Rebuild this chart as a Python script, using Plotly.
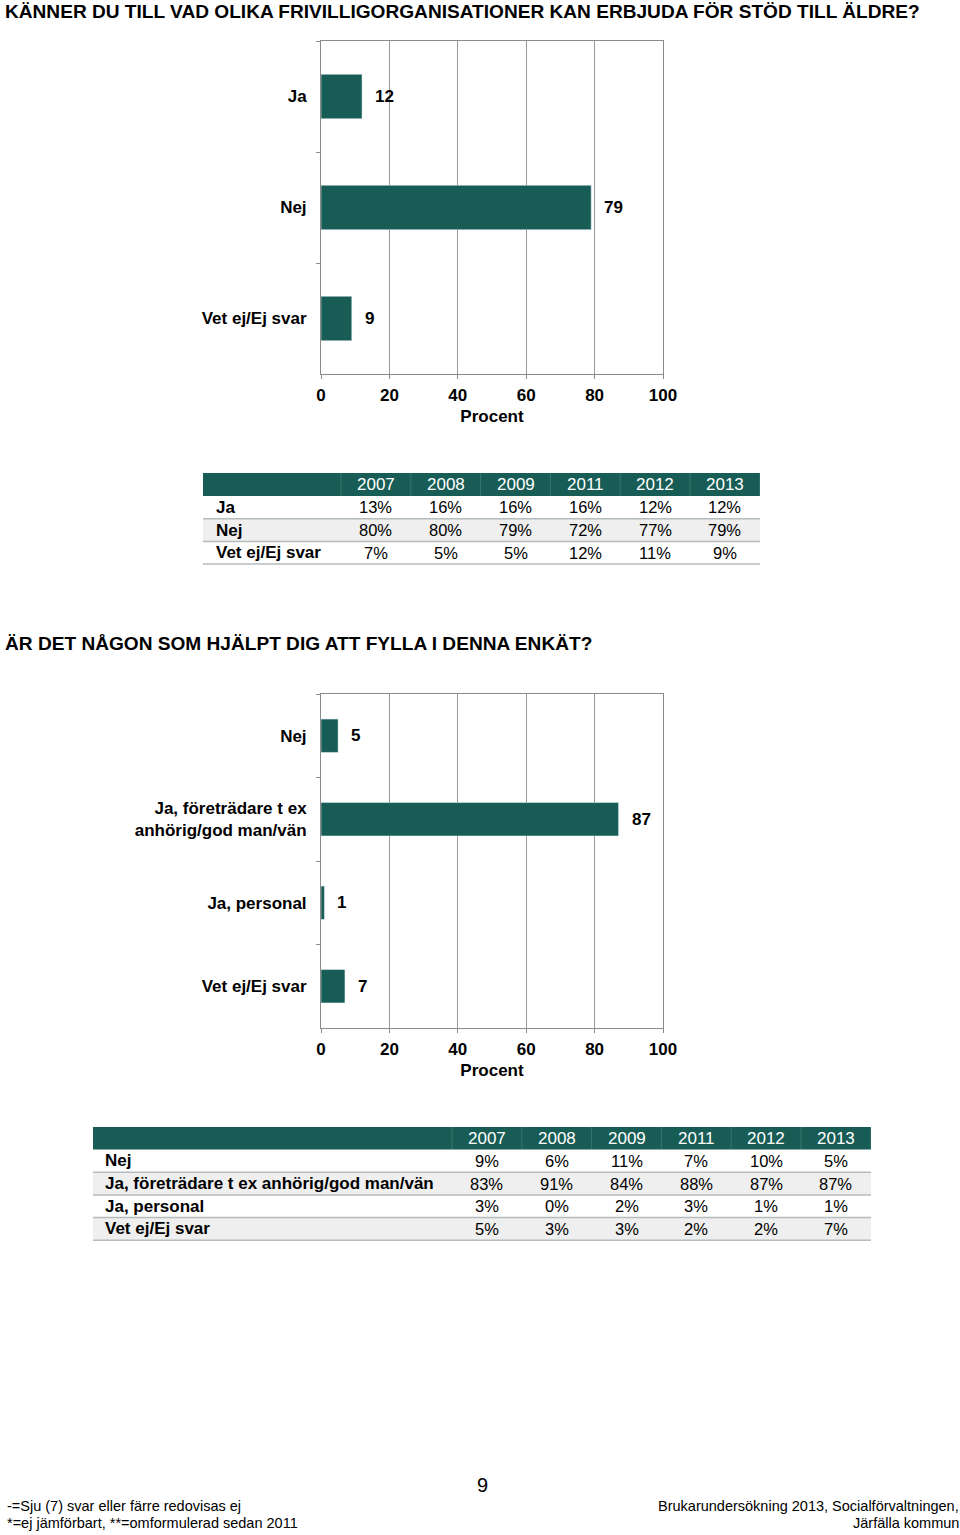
import plotly.graph_objects as go

W, H = 960, 1535
FONT = "Liberation Sans"
GREEN = "#175D56"
GRID = "#9a9a9a"
LINE = "#8a8a8a"

# ---------------- data ----------------
title1 = "KÄNNER DU TILL VAD OLIKA FRIVILLIGORGANISATIONER KAN ERBJUDA FÖR STÖD TILL ÄLDRE?"
title2 = "ÄR DET NÅGON SOM HJÄLPT DIG ATT FYLLA I DENNA ENKÄT?"

c1_categories = ["Ja", "Nej", "Vet ej/Ej svar"]
c1_values = [12, 79, 9]

c2_categories = ["Nej", "Ja, företrädare t ex<br>anhörig/god man/vän", "Ja, personal", "Vet ej/Ej svar"]
c2_values = [5, 87, 1, 7]

x_ticks = [0, 20, 40, 60, 80, 100]
axis_title = "Procent"

years = ["2007", "2008", "2009", "2011", "2012", "2013"]

t1_rows = ["Ja", "Nej", "Vet ej/Ej svar"]
t1_ja = [13, 16, 16, 16, 12, 12]
t1_nej = [80, 80, 79, 72, 77, 79]
t1_vet = [7, 5, 5, 12, 11, 9]

t2_rows = ["Nej", "Ja, företrädare t ex anhörig/god man/vän", "Ja, personal", "Vet ej/Ej svar"]
t2_nej = [9, 6, 11, 7, 10, 5]
t2_jaf = [83, 91, 84, 88, 87, 87]
t2_jap = [3, 0, 2, 3, 1, 1]
t2_vet = [5, 3, 3, 2, 2, 7]

footer_left = ["-=Sju (7) svar eller färre redovisas ej", "*=ej jämförbart, **=omformulerad sedan 2011"]
footer_right = ["Brukarundersökning 2013, Socialförvaltningen,", "Järfälla kommun"]
page_no = "9"


def px(x):
    return x / W


def py(y):
    return 1 - y / H


fig = go.Figure()

fig.add_trace(go.Bar(x=c1_values, y=c1_categories, orientation="h", marker_color=GREEN,
                     width=0.4, xaxis="x", yaxis="y", showlegend=False, hoverinfo="skip"))
fig.add_trace(go.Bar(x=c2_values, y=c2_categories, orientation="h", marker_color=GREEN,
                     width=0.4, xaxis="x2", yaxis="y2", showlegend=False, hoverinfo="skip"))

annotations = []
shapes = []

for cats, vals, xr, yr in [(c1_categories, c1_values, "x", "y"), (c2_categories, c2_values, "x2", "y2")]:
    for c, v in zip(cats, vals):
        annotations.append(dict(x=v, y=c, xref=xr, yref=yr, text=str(v), showarrow=False,
                                xanchor="left", xshift=11,
                                font=dict(family=FONT, size=17, color="black", weight="bold")))

axis_common_x = dict(range=[0, 100], tickvals=x_ticks, ticks="outside", ticklen=4, tickcolor=LINE,
                     showline=True, linecolor=LINE, linewidth=1, mirror=True, automargin=False,
                     showgrid=True, gridcolor=GRID, gridwidth=1, zeroline=False,
                     ticklabelstandoff=2,
                     tickfont=dict(family=FONT, size=17, color="black", weight="bold"),
                     title=dict(text=axis_title, standoff=5,
                                font=dict(family=FONT, size=17, color="black", weight="bold")))
axis_common_y = dict(type="category", autorange="reversed", ticks="outside", ticklen=4,
                     tickcolor=LINE, tickson="boundaries", showline=True, linecolor=LINE,
                     linewidth=1, mirror=True, showgrid=False, zeroline=False, automargin=False,
                     ticklabelstandoff=10,
                     tickfont=dict(family=FONT, size=17, color="black", weight="bold"))


def draw_table(x0, x_label, col_left, col_w, x_right, y_top, header_h, row_h, rows, data, gray_rows):
    y_h_bot = y_top + header_h
    shapes.append(dict(type="rect", xref="paper", yref="paper", x0=px(x0), x1=px(x_right),
                       y0=py(y_h_bot), y1=py(y_top), fillcolor=GREEN, line=dict(width=0), layer="below"))
    for j in range(len(years) + 1):
        xs = col_left + j * col_w
        shapes.append(dict(type="line", xref="paper", yref="paper", x0=px(xs), x1=px(xs),
                           y0=py(y_h_bot), y1=py(y_top), line=dict(color="rgba(255,255,255,0.15)", width=1)))
    for j, yr_ in enumerate(years):
        annotations.append(dict(x=px(col_left + (j + 0.5) * col_w), y=py(y_top + header_h / 2),
                                xref="paper", yref="paper", text=yr_, showarrow=False,
                                xanchor="center", yanchor="middle",
                                font=dict(family=FONT, size=17, color="white")))
    for i, (label, vals) in enumerate(zip(rows, data)):
        r0 = y_h_bot + i * row_h
        r1 = r0 + row_h
        if i in gray_rows:
            shapes.append(dict(type="rect", xref="paper", yref="paper", x0=px(x0), x1=px(x_right),
                               y0=py(r1), y1=py(r0), fillcolor="#efefef", line=dict(width=0), layer="below"))
        shapes.append(dict(type="line", xref="paper", yref="paper", x0=px(x0), x1=px(x_right),
                           y0=py(r1), y1=py(r1), line=dict(color="#b4bcbc", width=1.5)))
        annotations.append(dict(x=px(x_label), y=py((r0 + r1) / 2), xref="paper", yref="paper",
                                text=label, showarrow=False, xanchor="left", yanchor="middle", xshift=-2,
                                font=dict(family=FONT, size=17, color="black", weight="bold")))
        for j, v in enumerate(vals):
            annotations.append(dict(x=px(col_left + (j + 0.5) * col_w), y=py((r0 + r1) / 2),
                                    xref="paper", yref="paper", text=f"{v}%", showarrow=False,
                                    xanchor="center", yanchor="middle",
                                    font=dict(family=FONT, size=16.5, color="black")))


draw_table(203, 216, 341, 69.8, 760, 473, 23, 22.7, t1_rows, [t1_ja, t1_nej, t1_vet], [1])
draw_table(93, 105, 452, 69.8, 871, 1127, 22.5, 22.7, t2_rows, [t2_nej, t2_jaf, t2_jap, t2_vet], [1, 3])

# titles
for t, y in [(title1, 12), (title2, 643)]:
    annotations.append(dict(x=px(3), y=py(y), xref="paper", yref="paper", text=t, showarrow=False,
                            xanchor="left", yanchor="middle",
                            font=dict(family=FONT, size=19.1, color="black", weight="bold")))

# footer
annotations.append(dict(x=px(482), y=py(1485), xref="paper", yref="paper", text=page_no, showarrow=False,
                        xanchor="center", yanchor="middle", font=dict(family=FONT, size=20, color="black")))
for k, t in enumerate(footer_left):
    annotations.append(dict(x=px(5), y=py(1506 + 17 * k), xref="paper", yref="paper", text=t, showarrow=False,
                            xanchor="left", yanchor="middle", font=dict(family=FONT, size=14.5, color="black")))
for k, t in enumerate(footer_right):
    annotations.append(dict(x=1, y=py(1506 + 17 * k), xref="paper", yref="paper", text=t, showarrow=False,
                            xanchor="right", yanchor="middle", xshift=1,
                            font=dict(family=FONT, size=14.5, color="black")))

fig.update_layout(
    width=W, height=H, autosize=False, margin=dict(l=0, r=0, t=0, b=0, autoexpand=False),
    paper_bgcolor="white", plot_bgcolor="white",
    xaxis=dict(domain=[px(321), px(663)], anchor="y", **axis_common_x),
    yaxis=dict(domain=[py(374), py(41)], anchor="x", **axis_common_y),
    xaxis2=dict(domain=[px(321), px(663)], anchor="y2", **axis_common_x),
    yaxis2=dict(domain=[py(1028), py(694)], anchor="x2", **axis_common_y),
    annotations=annotations, shapes=shapes,
    bargap=0.6,
)

fig.write_html("out.html", config={"responsive": False, "displayModeBar": False})
